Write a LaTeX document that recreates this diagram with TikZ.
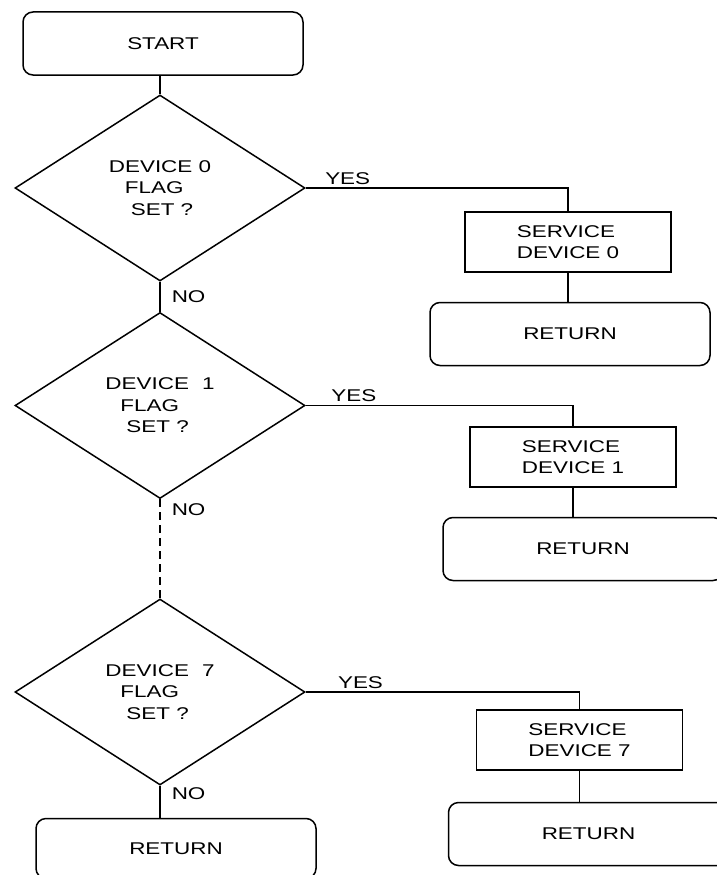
\documentclass[tikz,border=0pt]{standalone}
\usepackage{fontspec}
\setmainfont{Liberation Sans}[FakeStretch=1.32]
\usetikzlibrary{positioning,shapes.geometric}

\begin{document}
\begin{tikzpicture}[
    x=1pt, y=-1pt,
    line width=1.5pt,
    font=\fontsize{17}{21.5}\selectfont,
    term/.style={draw, rectangle, rounded corners=10pt, minimum width=280pt, minimum height=63pt},
    proc/.style={draw, rectangle, minimum width=206pt, minimum height=60pt, align=left},
    decision/.style={draw, diamond, minimum width=290pt, minimum height=186pt, inner sep=0pt, align=left},
    lbl/.style={inner sep=3pt}
]
\useasboundingbox (0,0) rectangle (717,875);

% Nodes
\node[term] (start) at (163,43.5) {START};
\node[decision] (d0) at (160,188) {DEVICE 0\\\hspace*{16pt}FLAG\\\hspace*{22pt}SET ?};
\node[proc] (s0) at (568,242) {SERVICE\\DEVICE 0};
\node[term, below=29pt of s0, xshift=2pt] (r0) {RETURN};

\node[decision, below=30pt of d0] (d1) {DEVICE\hspace{13pt}1\\\hspace*{15pt}FLAG\\\hspace*{21pt}SET ?};
\node[proc] (s1) at (573,457) {SERVICE\\DEVICE 1};
\node[term, below=29pt of s1, xshift=10pt] (r1) {RETURN};

\node[decision, below=99pt of d1] (d7) {DEVICE\hspace{13pt}7\\\hspace*{15pt}FLAG\\\hspace*{21pt}SET ?};
\node[proc] (s7) at (579.5,740) {SERVICE\\DEVICE 7};
\node[term, below=31pt of s7, xshift=9pt] (r7) {RETURN};
\node[term, minimum height=60pt, below=32pt of d7, xshift=16pt] (rno) {RETURN};

% Connections
\draw (start.south -| d0.north) -- (d0.north);
\draw (d0.east) -| node[pos=0.08, above, lbl] {YES} (s0.north);
\draw (s0.south) -- (s0.south |- r0.north);
\draw (d0.south) -- node[right=8pt, lbl] {NO} (d1.north);

\draw (d1.east) -| node[pos=0.09, above, lbl] {YES} (s1.north);
\draw (s1.south) -- (s1.south |- r1.north);
\draw[dash pattern=on 8pt off 5pt] (d1.south) -- node[pos=0.11, right=8pt, lbl] {NO} (d7.north);

\draw (d7.east) -| node[pos=0.1, above, lbl] {YES} (s7.north);
\draw (s7.south) -- (s7.south |- r7.north);
\draw (d7.south) -- node[pos=0.25, right=8pt, lbl] {NO} (d7.south |- rno.north);

\end{tikzpicture}
\end{document}
